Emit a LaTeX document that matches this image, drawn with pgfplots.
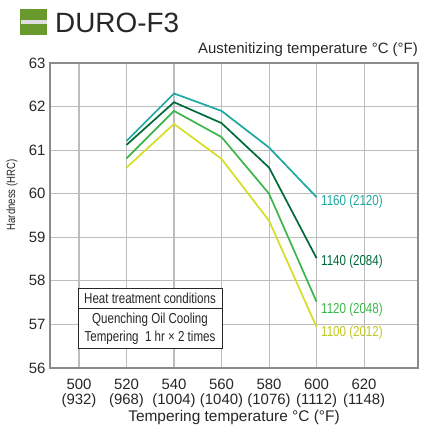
\documentclass[border=0pt]{standalone}
\usepackage{fontspec}
\setmainfont{Liberation Sans}
\newfontfamily\cond{Liberation Sans}[FakeStretch=0.8]
\usepackage{pgfplots}
\pgfplotsset{compat=1.18}

\definecolor{cTeal}{HTML}{1BA8A0}
\definecolor{cDark}{HTML}{006A38}
\definecolor{cMid}{HTML}{3CB64B}
\definecolor{cYel}{HTML}{D5DE24}
\definecolor{cIcon}{HTML}{6A9A2E}
\definecolor{cText}{HTML}{2A2627}
\definecolor{cGrid}{HTML}{BDBDBD}
\definecolor{cAxis}{HTML}{8C8C8C}

\begin{document}
\begin{tikzpicture}[x=1bp,y=1bp]
\useasboundingbox (0,0) rectangle (422,437);

% title with icon
\fill[cIcon] (20,402) rectangle (47,428);
\fill[gray!25] (21,413) rectangle (47,417);
\node[anchor=base west, text=cText, inner sep=0pt] at (55,404)
  {\fontsize{28}{28}\selectfont DURO-F3};
\node[anchor=base east, text=cText, inner sep=0pt] at (418,383)
  {\fontsize{15}{15}\selectfont Austenitizing temperature °C (°F)};

\begin{axis}[
    at={(50bp,69bp)}, anchor=south west,
    width=368bp, height=305bp, scale only axis,
    xmin=487.8, xmax=642.7,
    ymin=56, ymax=63,
    xtick={500,520,...,620},
    ytick={56,57,...,63},
    xticklabels={500\\(932),520\\(968),540\\(1004),560\\(1040),580\\(1076),600\\(1112),620\\(1148)},
    xticklabel style={align=center, font=\fontsize{15}{15}\selectfont, text=cText, yshift=-8bp},
    yticklabel style={font=\fontsize{15}{15}\selectfont, text=cText, xshift=-1bp},
    /pgf/number format/assume math mode=true,
    major tick length=0pt,
    grid=major,
    grid style={cGrid, line width=1.1bp},
    axis line style={cAxis, line width=1.1bp},
    xlabel={Tempering temperature °C (°F)},
    xlabel style={font=\fontsize{15.5}{15.5}\selectfont, text=cText, yshift=5bp},
    clip=false,
]
% 1160 (2120)
\addplot[cTeal, line width=1.7bp] coordinates {
    (520,61.21) (540,62.30) (560,61.90) (580,61.06) (600,59.92)};
% 1140 (2084)
\addplot[cDark, line width=1.7bp] coordinates {
    (520,61.12) (540,62.10) (560,61.62) (580,60.60) (600,58.52)};
% 1120 (2048)
\addplot[cMid, line width=1.7bp] coordinates {
    (520,60.81) (540,61.90) (560,61.30) (580,60.00) (600,57.52)};
% 1100 (2012)
\addplot[cYel, line width=1.7bp] coordinates {
    (520,60.60) (540,61.60) (560,60.80) (580,59.38) (600,56.94)};
\end{axis}

% y label
\node[rotate=90, text=cText] at (12,242) {\cond\fontsize{12}{12}\selectfont Hardness (HRC)};

% curve labels
\begin{scope}[every node/.style={anchor=west, inner sep=0pt}]
\node[text=cTeal] at (321,235) {\cond\fontsize{14.5}{14.5}\selectfont 1160 (2120)};
\node[text=cDark] at (321,175) {\cond\fontsize{14.5}{14.5}\selectfont 1140 (2084)};
\node[text=cMid]  at (321,127) {\cond\fontsize{14.5}{14.5}\selectfont 1120 (2048)};
\node[text=cYel!90!black]  at (321,104) {\cond\fontsize{14.5}{14.5}\selectfont 1100 (2012)};
\end{scope}

% heat treatment box
\fill[white] (78,89) rectangle (222,149);
\draw[cText, line width=0.9bp] (78,89) rectangle (222,149);
\draw[cText, line width=0.9bp] (78,129) -- (222,129);
\node[text=cText] at (150,139) {\cond\fontsize{14.5}{14.5}\selectfont Heat treatment conditions};
\node[text=cText] at (150,117) {\cond\fontsize{14.5}{14.5}\selectfont Quenching Oil Cooling};
\node[text=cText] at (150,99) {\cond\fontsize{14.5}{14.5}\selectfont Tempering\ \ 1 hr × 2 times};
\end{tikzpicture}
\end{document}
